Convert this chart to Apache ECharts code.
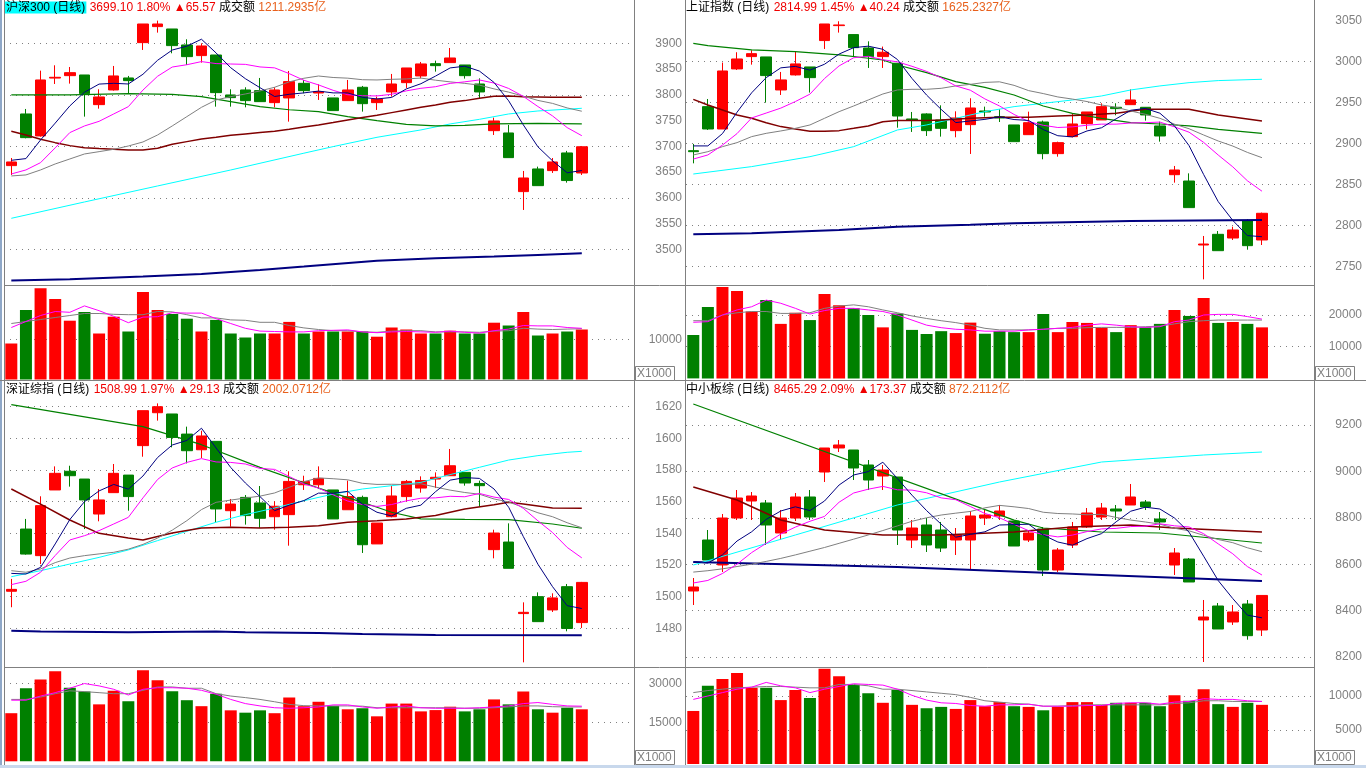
<!DOCTYPE html>
<html><head><meta charset="utf-8">
<script src="https://cdn.jsdelivr.net/npm/echarts@6/dist/echarts.min.js"></script>
<style>html,body{margin:0;padding:0;background:#fff;overflow:hidden}#c{width:1366px;height:768px}</style>
</head><body><div id="c"></div>
<script>
// ---------------- DATA ----------------
const days = Array.from({length: 40}, (_, i) => 'D' + (i + 1));

// 沪深300
const aOpen  = [3662.5,3762.8,3720.1,3832.5,3837.2,3838.5,3780.9,3809.4,3832.7,3901.3,3932.4,3927.8,3896.8,3876.1,3877.3,3799.7,3809.4,3808.1,3784.8,3793.9,3822.3,3803.5,3793.9,3788.7,3814.6,3784.8,3805.5,3823.6,3836.6,3860.5,3862.5,3857.9,3821.0,3730.4,3725.9,3612.0,3656.0,3652.8,3687.1,3648.2];
const aClose = [3669.6,3716.8,3828.8,3834.0,3843.0,3802.3,3795.8,3836.6,3827.5,3937.5,3937.5,3895.5,3874.1,3894.8,3804.2,3794.5,3788.7,3786.7,3809.4,3825.6,3808.1,3806.1,3769.3,3809.4,3782.8,3791.9,3821.0,3852.1,3859.9,3856.6,3871.5,3837.2,3805.5,3749.2,3678.0,3638.5,3623.6,3669.6,3633.5,3699.1];
const aLow   = [3644.3,3715.5,3718.8,3821.0,3821.7,3757.6,3773.1,3808.1,3802.9,3887.1,3920.7,3880.6,3857.9,3862.5,3777.0,3777.0,3775.7,3786.7,3775.7,3747.9,3802.9,3790.0,3769.3,3788.7,3767.3,3770.6,3796.4,3813.3,3832.0,3845.0,3862.5,3831.4,3793.2,3722.0,3678.0,3576.4,3623.6,3648.2,3629.4,3644.3];
const aHigh  = [3677.3,3772.5,3846.9,3857.3,3854.0,3838.5,3810.7,3856.0,3836.6,3937.5,3944.0,3927.8,3907.8,3900.0,3877.3,3810.7,3814.6,3832.7,3814.6,3846.3,3828.8,3820.4,3793.9,3828.8,3817.2,3796.4,3840.5,3852.1,3863.8,3866.3,3890.9,3857.9,3832.0,3755.7,3741.4,3652.1,3660.5,3677.3,3691.1,3700.6];
const aMA5  = [3672.8,3676.1,3712.3,3745.0,3778.4,3805.0,3820.8,3822.3,3821.0,3839.9,3867.0,3886.9,3894.4,3907.9,3881.2,3852.6,3831.3,3813.8,3796.7,3801.0,3803.7,3807.2,3803.7,3803.7,3795.1,3791.9,3794.9,3811.4,3821.5,3836.3,3852.2,3855.5,3846.1,3824.0,3788.3,3741.7,3699.0,3671.8,3648.6,3652.9];
const aMA10 = [3646.3,3654.1,3668.3,3697.0,3726.6,3739.5,3748.5,3762.8,3777.0,3809.2,3836.0,3853.9,3858.4,3864.5,3860.6,3859.8,3859.1,3854.1,3852.3,3841.1,3828.2,3819.2,3808.7,3800.2,3798.1,3797.8,3801.0,3807.6,3812.6,3815.7,3822.1,3825.2,3828.8,3822.8,3812.3,3797.0,3777.2,3759.0,3736.3,3720.6];
const aMA20 = [3642.4,3644.4,3654.1,3665.7,3675.4,3685.1,3689.6,3694.2,3700.6,3708.4,3722.0,3739.5,3757.6,3775.7,3790.0,3796.4,3801.6,3807.5,3814.6,3825.1,3832.1,3836.5,3833.6,3832.3,3829.3,3828.8,3830.1,3830.8,3832.5,3828.4,3825.1,3822.2,3818.8,3811.5,3805.2,3797.4,3789.1,3783.3,3774.5,3768.1];
const aMAgreen  = [[0,3799.7],[4,3800.0],[8,3802.3],[11,3801.0],[13,3796.4],[15,3786.7],[17,3777.0],[19,3771.0],[21,3767.3],[23,3757.6],[25,3749.8],[27,3742.7],[29,3739.5],[31,3740.8],[33,3743.4],[36,3744.5],[39,3743.4]];
const aMAmaroon = [[0,3729.1],[1,3722.0],[2,3713.6],[3,3707.1],[4,3701.3],[5,3697.4],[6,3695.5],[7,3694.2],[8,3692.9],[9,3692.9],[10,3696.1],[11,3703.9],[12,3709.1],[13,3714.3],[14,3717.5],[15,3721.4],[16,3724.0],[17,3726.6],[18,3729.1],[19,3733.0],[20,3737.6],[21,3741.4],[22,3746.0],[23,3751.1],[24,3755.7],[25,3760.2],[26,3765.4],[27,3770.6],[28,3775.7],[29,3780.3],[30,3785.5],[31,3788.7],[32,3793.2],[33,3797.1],[34,3797.7],[35,3796.4],[36,3795.8],[37,3795.1],[39,3795.1]];
const aMAcyan   = [[0,3560.2],[5,3591.9],[10,3623.0],[15,3654.0],[20,3686.6],[22,3699.4],[25,3717.5],[28,3731.8],[30,3743.4],[32,3752.4],[34,3762.8],[36,3768.6],[39,3773.8]];
const aMAlong   = [[0,3439.2],[4,3441.8],[9,3447.0],[13,3452.1],[17,3460.0],[20,3466.4],[25,3478.0],[29,3482.6],[33,3485.8],[36,3489.0],[39,3492.3]];
const aVol   = [9000,17400,22800,20100,14700,16900,11500,15700,12000,21900,17400,16400,15200,12000,14900,11500,10500,11500,11500,14400,11500,12000,12000,12000,12000,10700,13000,12500,11500,11500,12200,11500,11500,14200,13500,16900,11000,11500,12000,12500];
const aVolMA5  = [13000,14500,16000,17000,16800,18400,17200,15800,14200,15600,15700,16700,16600,16600,15200,14000,12800,12100,12000,11900,11900,12200,12300,12400,11900,11700,11900,12000,11900,11800,12100,11800,11600,12200,12600,13500,13400,13400,13000,12800];
const aVolMA10 = [14000,14500,15000,15500,16000,16500,16500,16300,16200,16200,17000,16900,16200,15400,15400,14900,14800,14300,14300,13500,12900,12500,12200,12200,11900,11800,12100,12200,12200,11900,11900,11900,11800,12100,12200,12800,12600,12500,12600,12700];

// 上证指数
const bOpen  = [2891.2,2944.8,2917.6,2990.7,3005.7,3005.3,2965.1,2983.4,2993.1,3025.2,3043.4,3032.5,3016.2,3005.7,2997.6,2929.8,2935.9,2928.6,2915.6,2922.9,2939.5,2932.6,2922.5,2910.7,2926.1,2887.6,2908.3,2924.1,2928.6,2944.0,2947.2,2944.0,2921.3,2862.0,2854.3,2776.4,2789.4,2784.9,2806.0,2782.5];
const bClose = [2890.0,2917.6,2988.2,3002.8,3009.3,2982.6,2977.3,2996.8,2980.1,3045.4,3044.2,3016.6,3005.7,3011.0,2933.4,2928.6,2915.6,2918.4,2931.0,2943.2,2938.3,2931.0,2902.2,2925.3,2887.6,2901.0,2923.7,2938.3,2944.8,2942.4,2952.9,2934.7,2909.1,2867.7,2821.9,2777.6,2769.5,2794.7,2775.6,2815.0];
const bLow   = [2875.8,2916.4,2917.6,2989.4,2995.9,2949.7,2959.0,2982.6,2961.9,3015.0,3034.9,3005.7,2991.9,2991.9,2919.2,2914.0,2909.1,2908.3,2907.5,2887.2,2932.6,2926.1,2902.2,2910.7,2880.7,2883.9,2907.5,2917.2,2928.6,2934.3,2947.2,2927.8,2902.2,2852.3,2821.9,2734.6,2769.5,2782.5,2770.7,2776.4];
const bHigh  = [2899.4,2954.1,2998.4,3011.0,3013.4,3005.3,2987.0,3011.4,2993.1,3045.4,3048.7,3032.5,3024.3,3017.9,2997.6,2938.3,2936.7,2946.4,2939.1,2955.0,2944.8,2941.6,2922.5,2938.7,2927.8,2902.2,2936.7,2938.3,2948.9,2948.9,2965.9,2944.0,2926.5,2872.6,2863.6,2787.4,2793.4,2798.7,2807.7,2815.8];
const bMA5  = [2897.0,2897.0,2912.0,2938.0,2961.6,2980.1,2992.0,2993.8,2989.2,2996.4,3008.8,3016.6,3018.4,3014.6,3002.2,2979.1,2958.9,2941.4,2925.4,2927.4,2929.3,2932.4,2929.1,2928.0,2916.9,2909.4,2908.0,2915.2,2919.1,2930.0,2940.4,2942.6,2936.8,2921.4,2897.3,2862.2,2829.2,2806.3,2787.9,2786.5];
const bMA10 = [2881.0,2886.0,2898.0,2912.0,2931.0,2937.0,2943.0,2951.0,2960.0,2979.0,2994.4,3004.3,3006.1,3001.9,2999.3,2993.9,2987.7,2979.9,2970.0,2964.8,2954.2,2945.6,2935.3,2926.7,2922.1,2919.4,2920.2,2922.2,2923.5,2923.5,2924.9,2925.3,2926.0,2920.2,2913.7,2901.3,2885.9,2871.5,2854.6,2841.9];
const bMA20 = [2886.0,2890.0,2896.1,2901.0,2908.3,2912.3,2915.2,2918.4,2922.5,2930.6,2938.7,2945.6,2952.9,2960.2,2965.1,2965.9,2965.9,2967.1,2970.0,2971.9,2974.3,2975.0,2970.7,2964.3,2960.7,2956.6,2954.0,2951.0,2946.8,2944.1,2939.5,2935.5,2930.6,2923.5,2917.9,2910.3,2903.0,2896.8,2889.1,2882.7];
const bMAgreen  = [[0,3021.9],[1,3019.1],[4,3013.8],[7,3011.8],[10,3007.7],[12,3003.7],[13,3001.6],[14,2995.5],[16,2986.2],[18,2975.2],[20,2968.3],[22,2959.0],[24,2945.6],[26,2936.7],[28,2930.6],[30,2925.3],[32,2923.7],[34,2921.3],[36,2917.2],[39,2912.3]];
const bMAmaroon = [[0,2953.7],[1,2946.8],[2,2940.8],[3,2934.7],[4,2930.6],[5,2925.3],[6,2920.5],[7,2917.6],[8,2914.8],[9,2914.8],[10,2915.6],[11,2918.4],[12,2921.3],[13,2926.5],[14,2927.8],[16,2927.8],[17,2928.6],[19,2930.6],[21,2931.8],[23,2931.8],[25,2933.4],[27,2934.7],[29,2936.7],[31,2941.6],[34,2941.6],[36,2934.7],[39,2927.4]];
const bMAcyan   = [[0,2862.8],[4,2871.8],[8,2883.9],[11,2896.1],[14,2916.4],[16,2922.5],[18,2930.6],[20,2938.7],[22,2944.8],[26,2952.9],[28,2957.8],[30,2965.1],[32,2970.0],[34,2974.0],[36,2976.5],[39,2978.1]];
const bMAlong   = [[0,2789.4],[4,2790.6],[10,2794.7],[14,2798.7],[19,2801.2],[22,2802.8],[30,2805.6],[39,2806.8]];
const bVol   = [13700,22500,28800,27600,21100,24700,17200,20700,18400,26600,23100,22100,20000,16100,20500,15300,14000,14900,14300,17600,14100,14900,14600,14600,20300,14600,17800,17500,16000,14600,16800,16100,17200,21600,19700,25400,17500,17800,17200,16100];
const bVolMA5  = [17700,17900,20000,21600,22600,24700,23700,22100,20300,21400,22100,22100,21600,21100,20000,18400,16800,16000,15500,15300,14900,14900,14900,15300,15500,15800,16100,16800,17200,16800,16300,16100,16300,17900,18400,20000,20200,20200,19500,18700];
const bVolMA10 = [18200,18200,20000,20700,21100,21100,20500,20500,20700,22100,22800,23200,22600,21600,20700,19700,18900,18200,17600,16800,15800,15300,15300,15300,15500,15800,15800,16000,16100,16100,16100,16300,16500,17200,17900,18200,18400,18400,18400,18400];

// 深证综指
const cOpen  = [1503.4,1542.7,1525.9,1567.4,1579.2,1574.3,1552.2,1565.7,1576.8,1595.4,1616.2,1615.4,1602.7,1592.8,1598.1,1554.3,1562.7,1559.2,1550.5,1551.8,1570.7,1570.7,1567.4,1554.9,1562.7,1533.3,1550.5,1563.2,1568.6,1574.3,1576.4,1578.5,1571.5,1529.7,1534.5,1489.3,1500.0,1491.6,1506.3,1483.6];
const cClose = [1504.6,1526.9,1557.5,1577.9,1576.4,1561.1,1561.1,1577.9,1563.2,1617.5,1620.0,1600.6,1592.2,1601.5,1555.4,1558.5,1551.2,1549.5,1557.1,1572.8,1572.8,1574.7,1549.1,1563.2,1532.8,1546.5,1563.6,1572.8,1573.3,1575.4,1582.7,1571.8,1570.1,1540.2,1517.9,1490.1,1484.2,1499.2,1479.9,1509.0];
const cLow   = [1493.3,1526.5,1520.6,1567.4,1569.5,1542.7,1547.6,1565.7,1554.3,1588.4,1611.2,1594.3,1584.2,1587.6,1547.0,1544.2,1545.5,1543.4,1542.3,1532.2,1567.4,1568.6,1549.1,1554.9,1527.6,1533.3,1550.1,1560.2,1565.7,1568.6,1576.4,1570.1,1556.8,1524.2,1517.9,1458.5,1484.2,1490.3,1478.1,1480.2];
const cHigh  = [1511.2,1549.1,1563.4,1582.3,1582.7,1574.3,1568.0,1583.8,1576.8,1617.5,1622.1,1615.4,1607.4,1604.8,1598.1,1561.7,1564.2,1569.9,1560.2,1579.2,1576.4,1582.3,1567.4,1573.3,1563.8,1546.5,1570.1,1573.7,1576.0,1578.5,1593.3,1578.5,1573.3,1542.3,1546.3,1496.4,1502.7,1502.1,1508.0,1509.3];
const cMA5  = [1514.7,1514.3,1518.5,1533.3,1548.7,1560.0,1566.8,1570.9,1567.9,1576.2,1587.9,1595.8,1598.7,1606.4,1593.9,1581.6,1571.8,1563.2,1554.3,1557.8,1560.7,1565.4,1565.3,1566.5,1558.5,1553.3,1551.0,1555.8,1557.8,1566.3,1573.6,1575.2,1574.7,1568.0,1556.5,1538.0,1520.5,1506.3,1494.3,1492.5];
const cMA10 = [1507.6,1509.7,1515.4,1526.0,1535.8,1538.5,1541.7,1545.9,1550.1,1562.4,1574.0,1581.3,1584.8,1587.2,1585.1,1584.8,1583.8,1581.0,1580.4,1575.9,1571.2,1568.6,1564.3,1560.4,1558.2,1557.0,1558.2,1560.5,1562.2,1562.4,1563.4,1563.1,1565.2,1562.9,1561.4,1555.8,1547.9,1540.5,1531.1,1524.5];
const cMA20 = [1516.4,1515.4,1517.5,1521.5,1524.4,1525.9,1527.0,1528.0,1530.0,1533.0,1537.0,1542.0,1548.0,1555.0,1559.6,1561.0,1562.3,1563.5,1565.5,1569.1,1572.6,1575.0,1574.5,1573.8,1571.6,1570.9,1571.0,1570.8,1571.3,1569.2,1567.3,1565.8,1564.7,1561.7,1559.8,1556.4,1553.0,1550.5,1546.7,1543.5];
const cMAgreen  = [[0,1621.3],[9,1607.4],[13,1596.0],[17,1581.7],[21,1568.6],[24,1559.6],[26,1553.3],[28,1549.1],[31,1548.8],[34,1548.6],[37,1545.9],[39,1543.2]];
const cMAmaroon = [[0,1568.0],[2,1558.5],[4,1548.4],[6,1540.0],[8,1537.1],[9,1535.8],[11,1540.2],[13,1543.4],[15,1543.8],[17,1543.4],[19,1543.8],[21,1544.8],[23,1547.0],[25,1548.0],[27,1549.1],[29,1551.2],[31,1555.4],[33,1558.1],[34,1559.6],[35,1558.5],[37,1556.0],[39,1555.8]];
const cMAcyan   = [[0,1512.6],[2,1516.4],[4,1520.6],[6,1524.8],[8,1529.5],[10,1535.4],[12,1541.3],[14,1547.0],[16,1551.8],[18,1556.0],[20,1560.6],[22,1564.8],[24,1568.0],[26,1570.1],[28,1572.2],[30,1577.1],[32,1581.7],[34,1586.3],[36,1589.1],[38,1591.2],[39,1591.8]];
const cMAlong   = [[0,1478.5],[2,1477.9],[8,1477.5],[14,1477.9],[16,1477.5],[21,1477.1],[24,1476.4],[29,1475.8],[39,1475.6]];
const cVol   = [18500,28100,31500,34600,28300,26800,21900,27100,23100,35000,31200,26900,23500,21200,26000,19600,18700,19600,18500,24500,21200,22900,21300,20000,20400,17300,22200,22200,19200,19700,21000,19200,20000,23800,21900,26800,20000,18700,20600,20000];
const cVolMA5  = [23500,23500,25100,26400,28100,29900,29000,27700,25500,27700,28300,28300,28100,27300,25800,23800,22200,21300,20600,20400,20600,20900,21700,21700,20900,20400,20900,21300,20600,20400,20400,20400,20600,20900,21300,22200,22600,21900,21300,21200];
const cVolMA10 = [23800,23800,24700,26000,27100,26800,26400,26000,26000,27300,28600,28600,28100,28100,26000,25100,24500,23800,22900,21900,21400,21300,21300,21300,21200,20600,20600,20600,20600,20600,20600,20400,20400,20600,20900,21300,21300,21000,20900,20900];

// 中小板综
const dOpen  = [8484.5,8704.3,8596.6,8799.1,8872.4,8863.8,8734.5,8799.1,8889.7,8997.4,9100.9,9092.2,9027.6,8980.2,8975.9,8704.3,8769.0,8747.4,8704.3,8704.3,8799.1,8807.8,8786.2,8704.3,8751.7,8575.0,8682.8,8760.3,8803.4,8837.9,8855.2,8868.1,8794.8,8596.6,8622.4,8359.5,8419.8,8350.9,8428.4,8316.4];
const dClose = [8501.7,8618.1,8799.1,8885.3,8894.0,8769.0,8799.1,8889.7,8803.4,9100.9,9113.8,9014.7,8962.9,9006.0,8747.4,8756.0,8682.8,8669.8,8725.9,8807.8,8812.1,8829.3,8678.4,8734.5,8575.0,8661.2,8760.3,8820.7,8842.2,8829.3,8889.7,8846.6,8781.9,8648.3,8523.3,8372.4,8320.7,8394.0,8291.9,8465.3];
const dLow   = [8424.1,8618.1,8566.4,8790.5,8790.5,8682.8,8704.3,8786.2,8790.5,8954.3,9083.6,8962.9,8919.8,8919.8,8682.8,8669.8,8652.6,8652.6,8639.7,8575.0,8769.0,8790.5,8678.4,8695.7,8549.1,8566.4,8669.8,8756.0,8790.5,8790.5,8855.2,8833.6,8747.4,8553.4,8523.3,8178.4,8320.7,8338.0,8274.6,8290.5];
const dHigh  = [8540.5,8747.4,8816.4,8919.8,8911.2,8876.7,8833.6,8906.9,8919.8,9100.9,9135.3,9092.2,9049.1,9027.6,8975.9,8790.5,8799.1,8782.0,8756.0,8829.3,8833.6,8855.2,8786.2,8747.4,8760.3,8669.8,8782.0,8842.2,8863.8,8855.2,8945.7,8876.7,8825.0,8669.8,8626.7,8445.7,8432.8,8424.1,8445.7,8465.3];
const dMA5  = [8609.0,8605.0,8640.0,8700.0,8739.6,8793.1,8829.3,8847.4,8831.0,8872.4,8941.4,8984.5,8999.1,9039.7,8969.0,8897.4,8831.0,8772.4,8716.4,8728.5,8739.7,8769.0,8770.7,8772.4,8725.9,8695.7,8681.9,8710.3,8731.9,8782.7,8828.4,8845.7,8837.9,8799.2,8738.0,8634.5,8529.3,8451.7,8380.5,8368.9];
const dMA10 = [8519.0,8530.0,8560.0,8600.0,8650.0,8690.0,8730.0,8760.0,8785.0,8806.0,8867.2,8906.9,8923.3,8935.4,8920.7,8919.4,8907.8,8885.8,8878.0,8848.7,8818.5,8800.0,8771.6,8744.4,8727.2,8717.7,8725.4,8740.5,8752.2,8754.3,8762.1,8763.8,8774.1,8765.5,8760.4,8731.5,8687.5,8644.8,8589.8,8553.4];
const dMA20 = [8566.0,8572.0,8580.0,8590.0,8600.0,8612.0,8625.0,8640.0,8656.0,8672.0,8690.0,8708.0,8726.0,8745.0,8765.0,8785.0,8800.0,8812.0,8820.0,8827.4,8842.9,8853.5,8847.4,8839.9,8823.9,8818.5,8816.6,8813.1,8815.1,8801.5,8790.3,8781.9,8772.8,8755.0,8743.8,8724.6,8706.5,8692.7,8670.9,8653.9];
const dMAgreen  = [[0,9290.5],[22,8790.0],[24,8756.0],[28,8738.8],[32,8734.5],[39,8691.4]];
const dMAmaroon = [[0,8932.8],[3,8876.7],[6,8790.5],[9,8747.4],[13,8725.9],[17,8725.9],[22,8738.8],[26,8760.3],[30,8769.0],[33,8756.0],[39,8738.8]];
const dMAcyan   = [[0,8596.6],[7,8725.9],[14,8855.2],[21,8954.3],[28,9040.5],[35,9070.7],[39,9083.6]];
const dMAlong   = [[0,8609.5],[14,8587.9],[28,8553.4],[39,8527.6]];
const dVol   = [7800,11500,12500,13400,11200,11200,9400,10900,9700,14000,12900,11600,10400,9000,10900,8700,8200,8400,8100,9400,8500,9100,8500,8400,7900,8400,9100,9100,8700,9000,9000,9000,8500,10100,9300,11000,8800,8400,9000,8700];
const dVolMA5  = [9500,10000,10500,11000,11300,12000,11500,11200,10500,11000,11400,11800,11700,11600,11000,10100,9400,9000,8900,8600,8500,8700,8700,8800,8500,8500,8500,8600,8600,8900,9000,9000,8800,9100,9200,9600,9500,9500,9300,9200];
const dVolMA10 = [10500,10800,11000,11200,11300,11400,11400,11300,11200,11200,11700,11700,11500,11000,11000,10800,10600,10400,10200,9800,9300,9100,8900,8800,8500,8500,8600,8700,8700,8700,8700,8700,8700,8900,9000,9300,9300,9200,9200,9200];

// header texts
const names   = ['沪深300 (日线)', '上证指数 (日线)', '深证综指 (日线)', '中小板综 (日线)'];
const quotes  = ['3699.10 1.80%', '2814.99 1.45%', '1508.99 1.97%', '8465.29 2.09%'];
const changes = ['65.57', '40.24', '29.13', '173.37'];
const amounts = ['1211.2935亿', '1625.2327亿', '2002.0712亿', '872.2112亿'];

// ---------------- CHART ----------------
const FONT = '"Liberation Sans", "Noto Sans CJK SC", "DejaVu Sans", sans-serif';
const RED = '#FF0000', GREEN = '#008000', GRID = '#808080';
const cats = days.concat(['pad1', 'pad2', 'pad3']);

const panels = [
  {o:aOpen,c:aClose,l:aLow,h:aHigh,ma5:aMA5,ma10:aMA10,ma20:aMA20,g:aMAgreen,m:aMAmaroon,cy:aMAcyan,lg:aMAlong,v:aVol,v5:aVolMA5,v10:aVolMA10,
   x:4,w:629,pTop:43.3,pH:206,pMin:3500,pMax:3900,lbl:50,line:100,maxLine:true,vTop:299.5,vH:80,vMax:20000,vStep:10000,vShow:[10000],vMaxLine:false,tx:5,ty:0,hl:true},
  {o:bOpen,c:bClose,l:bLow,h:bHigh,ma5:bMA5,ma10:bMA10,ma20:bMA20,g:bMAgreen,m:bMAmaroon,cy:bMAcyan,lg:bMAlong,v:bVol,v5:bVolMA5,v10:bVolMA10,
   x:686,w:627,pTop:20.2,pH:246.5,pMin:2750,pMax:3050,lbl:50,line:50,maxLine:false,vTop:315,vH:63.4,vMax:20000,vStep:10000,vShow:[10000,20000],vMaxLine:true,tx:685,ty:0,hl:false},
  {o:cOpen,c:cClose,l:cLow,h:cHigh,ma5:cMA5,ma10:cMA10,ma20:cMA20,g:cMAgreen,m:cMAmaroon,cy:cMAcyan,lg:cMAlong,v:cVol,v5:cVolMA5,v10:cVolMA10,
   x:4,w:629,pTop:406.7,pH:221.6,pMin:1480,pMax:1620,lbl:20,line:20,maxLine:true,vTop:683.3,vH:78,vMax:30000,vStep:15000,vShow:[15000,30000],vMaxLine:true,tx:5,ty:382,hl:false},
  {o:dOpen,c:dClose,l:dLow,h:dHigh,ma5:dMA5,ma10:dMA10,ma20:dMA20,g:dMAgreen,m:dMAmaroon,cy:dMAcyan,lg:dMAlong,v:dVol,v5:dVolMA5,v10:dVolMA10,
   x:686,w:627,pTop:425,pH:232,pMin:8200,pMax:9200,lbl:200,line:200,maxLine:true,vTop:696,vH:68,vMax:10000,vStep:5000,vShow:[5000,10000],vMaxLine:true,tx:685,ty:382,hl:false}
];

const grid = [], xAxis = [], yAxis = [], series = [], title = [];
const labelStyle = {color: '#808080', fontSize: 12, fontFamily: FONT, align: 'right', margin: 49, formatter: v => String(v)};
const dotted = {color: GRID, type: [1, 5], width: 1};

function lineSeries(xi, yi, data, color, width, z) {
  return {type: 'line', xAxisIndex: xi, yAxisIndex: yi, data: data, symbol: 'none', showSymbol: false,
    clip: false, silent: true, animation: false, z: z || 3, connectNulls: true,
    lineStyle: {color: color, width: width}};
}

panels.forEach((P, k) => {
  const gP = grid.length;
  grid.push({left: P.x, width: P.w, top: P.pTop, height: P.pH});
  const gV = grid.length;
  grid.push({left: P.x, width: P.w, top: P.vTop, height: P.vH});
  const xP = xAxis.length;
  xAxis.push({type: 'category', gridIndex: gP, data: cats, boundaryGap: true, show: false});
  const xV = xAxis.length;
  xAxis.push({type: 'category', gridIndex: gV, data: cats, boundaryGap: true, show: false});
  const yP = yAxis.length;
  yAxis.push({type: 'value', gridIndex: gP, position: 'right', min: P.pMin, max: P.pMax, interval: P.lbl,
    axisLine: {show: false}, axisTick: {show: false}, splitLine: {show: false}, axisLabel: labelStyle});
  yAxis.push({type: 'value', gridIndex: gP, position: 'right', min: P.pMin, max: P.pMax, interval: P.line,
    axisLine: {show: false}, axisTick: {show: false}, axisLabel: {show: false},
    splitLine: {show: true, showMinLine: true, showMaxLine: P.maxLine, lineStyle: dotted}});
  const yV = yAxis.length;
  yAxis.push({type: 'value', gridIndex: gV, position: 'right', min: 0, max: P.vMax, interval: P.vStep,
    axisLine: {show: false}, axisTick: {show: false},
    splitLine: {show: true, showMinLine: false, showMaxLine: P.vMaxLine, lineStyle: dotted},
    axisLabel: Object.assign({}, labelStyle, {formatter: v => P.vShow.indexOf(v) >= 0 ? String(v) : ''})});

  series.push({type: 'candlestick', xAxisIndex: xP, yAxisIndex: yP, barWidth: 11, clip: false, animation: false, z: 2,
    data: P.o.map((o, i) => [o, P.c[i], P.l[i], P.h[i]]),
    itemStyle: {color: RED, color0: GREEN, borderColor: RED, borderColor0: GREEN, borderColorDoji: RED, borderWidth: 1}});
  series.push(lineSeries(xP, yP, P.lg, '#000080', 2));
  series.push(lineSeries(xP, yP, P.cy, '#00FFFF', 1));
  series.push(lineSeries(xP, yP, P.g, '#008000', 1.2));
  series.push(lineSeries(xP, yP, P.m, '#800000', 1.5));
  series.push(lineSeries(xP, yP, P.ma20, '#808080', 1));
  series.push(lineSeries(xP, yP, P.ma10, '#FF00FF', 1));
  series.push(lineSeries(xP, yP, P.ma5, '#000080', 1));

  series.push({type: 'bar', xAxisIndex: xV, yAxisIndex: yV, barWidth: 12, clip: false, animation: false, z: 2,
    data: P.v.map((v, i) => ({value: v, itemStyle: {color: P.c[i] >= P.o[i] ? RED : GREEN}}))});
  series.push(lineSeries(xV, yV, P.v10, '#808080', 1));
  series.push(lineSeries(xV, yV, P.v5, '#FF00FF', 1));

  title.push({left: P.tx, top: P.ty, padding: 0, itemGap: 0,
    text: '{n|' + names[k] + '} {r|' + quotes[k] + '} {r|▲' + changes[k] + '} {k|成交额} {o|' + amounts[k] + '}',
    textStyle: {fontSize: 12, fontFamily: FONT, lineHeight: 15, fontWeight: 'normal',
      rich: {
        n: {color: '#000', fontSize: 12, fontFamily: FONT, lineHeight: 15, padding: [0, 1, 0, 1], backgroundColor: P.hl ? '#00FFFF' : 'transparent'},
        r: {color: '#F00000', fontSize: 12, fontFamily: FONT, lineHeight: 15},
        k: {color: '#000', fontSize: 12, fontFamily: FONT, lineHeight: 15},
        o: {color: '#E8601C', fontSize: 12, fontFamily: FONT, lineHeight: 15}
      }}});
});

// panel frames
const frame = [];
function ln(x1, y1, x2, y2, color, w) {
  frame.push({type: 'line', silent: true, z: 100, shape: {x1: x1, y1: y1, x2: x2, y2: y2}, style: {stroke: color || GRID, lineWidth: w || 1}});
}
ln(1, 0, 1, 768, '#8FA8C8', 2);
ln(4.5, 0, 4.5, 768);
ln(634.5, 0, 634.5, 768);
ln(685.5, 0, 685.5, 768);
ln(1314.5, 0, 1314.5, 768);
ln(4, 285.5, 1315, 285.5);
ln(0, 380.5, 1366, 380.5);
ln(4, 667.5, 1315, 667.5);
ln(0, 766.5, 1366, 766.5, '#C8D8EC', 3);
[[635, 366], [1315, 366], [635, 750], [1315, 750]].forEach(p => {
  frame.push({type: 'rect', silent: true, z: 100, shape: {x: p[0] + 0.5, y: p[1] + 0.5, width: 39, height: 14}, style: {fill: '#fff', stroke: GRID, lineWidth: 1}});
  frame.push({type: 'text', silent: true, z: 101, x: p[0] + 2, y: p[1] + 2, style: {text: 'X1000', fill: '#808080', font: '12px ' + FONT}});
});

const chart = echarts.init(document.getElementById('c'), null, {renderer: 'canvas'});
chart.setOption({animation: false, backgroundColor: '#fff', title: title, grid: grid, xAxis: xAxis, yAxis: yAxis, series: series, graphic: {elements: frame}});
</script></body></html>
